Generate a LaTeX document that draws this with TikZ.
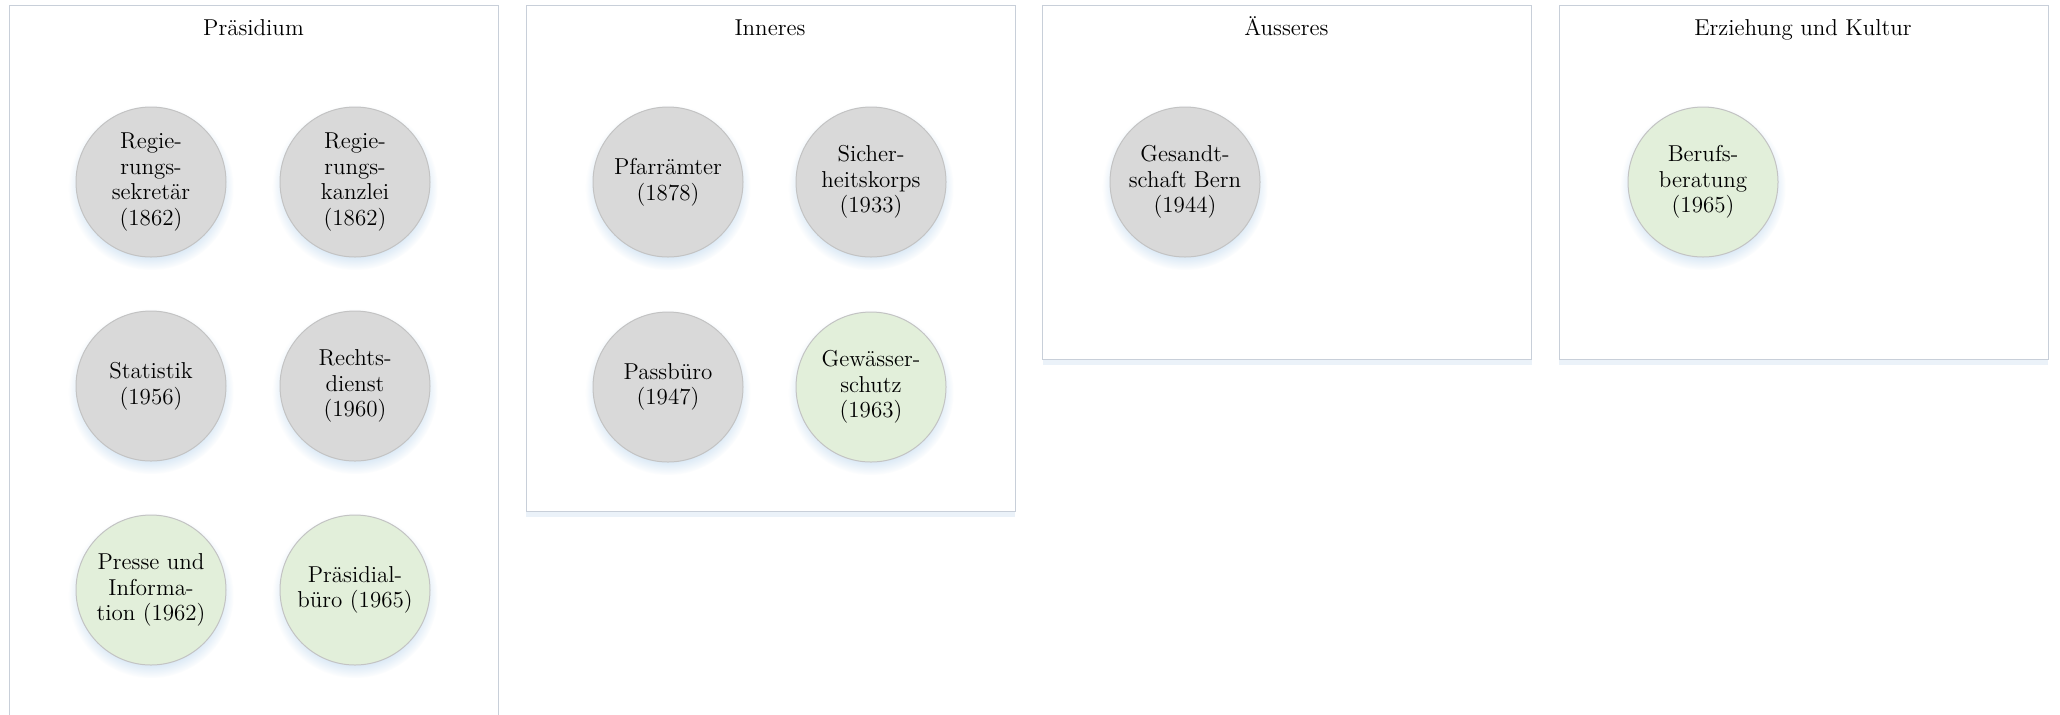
\documentclass[tikz,border=0pt]{standalone}
\usetikzlibrary{shadows}
\definecolor{greyfill}{HTML}{D9D9D9}
\definecolor{greenfill}{HTML}{E2EFDA}
\definecolor{circline}{HTML}{C3C3C3}
\definecolor{boxline}{HTML}{C8CFD9}
\definecolor{shadowblue}{HTML}{BDD7EE}
\begin{document}
\begin{tikzpicture}[x=0.5pt,y=-0.5pt,
  panel/.style={draw=boxline, fill=white, line width=0.6pt, anchor=north west,
    minimum width=244.5pt, inner sep=0pt,
    drop shadow={shadow xshift=0pt, shadow yshift=-2.5pt, fill=shadowblue, opacity=0.3}},
  paneltitle/.style={font=\fontsize{11.5}{13}\selectfont, inner sep=1pt, anchor=base},
  unit/.style={circle, draw=circline, line width=0.5pt, minimum size=75pt, inner sep=0pt,
    align=center, font=\fontsize{11.5}{12.85}\selectfont,
    circular drop shadow={shadow xshift=0pt, shadow yshift=-2.5pt, fill=shadowblue, opacity=0.5}},
  oldunit/.style={unit, fill=greyfill},
  newunit/.style={unit, fill=greenfill}]
\useasboundingbox (0,0) rectangle (2060,714);
\fill[white] (0,0) rectangle (2060,714);
% panels
\node[panel, minimum height=365pt] (p1) at (9,5) {};
\node[panel, minimum height=253pt] (p2) at (525.5,5) {};
\node[panel, minimum height=177pt] (p3) at (1042,5) {};
\node[panel, minimum height=177pt] (p4) at (1558.5,5) {};
% titles
\node[paneltitle] (t1) at (253.5,35) {Präsidium};
\node[paneltitle] (t2) at (770,35) {Inneres};
\node[paneltitle] (t3) at (1286.5,35) {Äusseres};
\node[paneltitle] (t4) at (1803,35) {Erziehung und Kultur};
% Präsidium
\node[oldunit] (a1) at (151,182) {Regie-\\rungs-\\sekretär\\(1862)};
\node[oldunit] (a2) at (355,182) {Regie-\\rungs-\\kanzlei\\(1862)};
\node[oldunit] (a3) at (151,386) {Statistik\\(1956)};
\node[oldunit] (a4) at (355,386) {Rechts-\\dienst\\(1960)};
\node[newunit] (a5) at (151,590) {Presse und\\Informa-\\tion (1962)};
\node[newunit] (a6) at (355,590) {Präsidial-\\büro (1965)};
% Inneres
\node[oldunit] (b1) at (668,182) {Pfarrämter\\(1878)};
\node[oldunit] (b2) at (871,182) {Sicher-\\heitskorps\\(1933)};
\node[oldunit] (b3) at (668,387) {Passbüro\\(1947)};
\node[newunit] (b4) at (871,387) {Gewässer-\\schutz\\(1963)};
% Äusseres
\node[oldunit] (c1) at (1185,182) {Gesandt-\\schaft Bern\\(1944)};
% Erziehung und Kultur
\node[newunit] (d1) at (1703,182) {Berufs-\\beratung\\(1965)};
\end{tikzpicture}
\end{document}
